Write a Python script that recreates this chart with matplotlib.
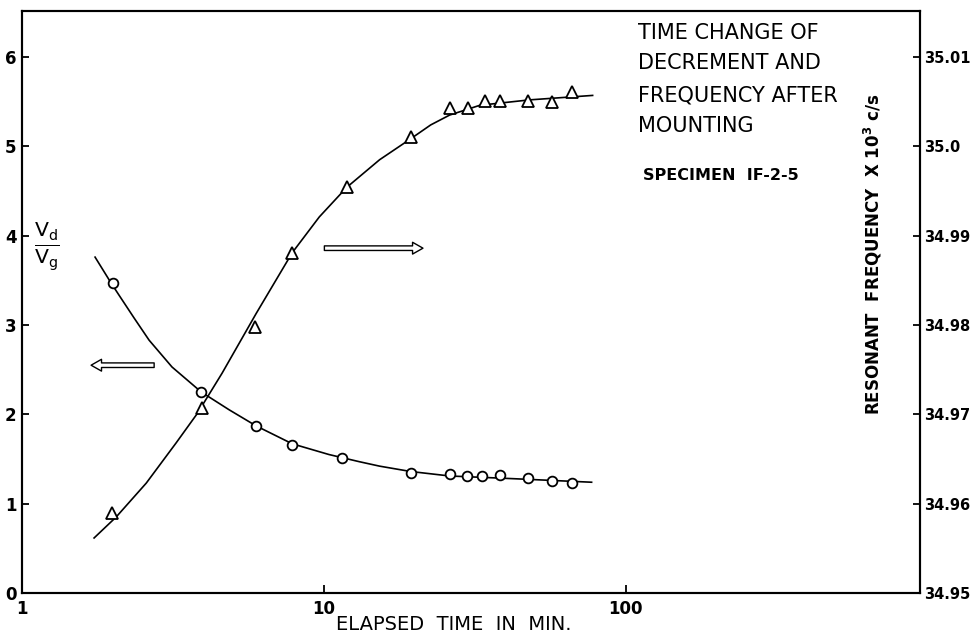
import matplotlib
matplotlib.use("Agg")
import matplotlib.pyplot as plt
from matplotlib.ticker import FixedLocator, FixedFormatter, NullLocator

# ---- data ----
# decrement V_d/V_g (left axis), circles
t_dec = [2.0, 3.93, 5.97, 7.86, 11.5, 19.4, 26.1, 29.7, 33.4, 38.2, 47.3, 56.9, 66.3]
v_dec = [3.47, 2.25, 1.87, 1.66, 1.51, 1.34, 1.33, 1.31, 1.31, 1.32, 1.29, 1.25, 1.23]
# hand-drawn fitted curve for decrement
t_dec_curve = [1.746, 1.973, 2.10, 2.35, 2.637, 3.14, 3.925, 4.86, 5.97, 7.86, 10.4, 13.1, 15.3, 19.4, 26.1, 42.2, 77.1]
v_dec_curve = [3.76, 3.47, 3.33, 3.08, 2.83, 2.53, 2.25, 2.05, 1.87, 1.67, 1.55, 1.47, 1.42, 1.36, 1.31, 1.28, 1.24]

# resonant frequency x 10^3 c/s (right axis), triangles
t_freq = [1.99, 3.95, 5.92, 7.86, 11.9, 19.5, 26.1, 30.1, 34.1, 38.2, 47.3, 57.2, 66.3]
f_freq = [34.9590, 34.9707, 34.9798, 34.9881, 34.9954, 35.0010, 35.0043, 35.0043,
          35.0051, 35.0051, 35.0051, 35.0050, 35.0061]
# hand-drawn fitted curve for frequency
t_freq_curve = [1.733, 2.05, 2.58, 3.24, 3.81, 4.60, 5.97, 7.86, 9.66, 11.9, 15.3, 19.5, 22.6, 26.1, 32.9, 48.0, 77.7]
f_freq_curve = [34.95616, 34.9585, 34.9623, 34.9668, 34.9701, 34.9746, 34.9813, 34.9881,
                34.9921, 34.9954, 34.9985, 35.0009, 35.0024, 35.0035, 35.0046, 35.0052, 35.0057]

x_ticks = [1, 10, 100]
x_tick_labels = ["1", "10", "100"]
left_ticks = [0, 1, 2, 3, 4, 5, 6]
left_tick_labels = ["0", "1", "2", "3", "4", "5", "6"]
right_ticks = [34.95, 34.96, 34.97, 34.98, 34.99, 35.00, 35.01]
right_tick_labels = ["34.95", "34.96", "34.97", "34.98", "34.99", "35.0", "35.01"]

title_lines = ["TIME CHANGE OF", "DECREMENT AND", "FREQUENCY AFTER", "MOUNTING"]
specimen_text = "SPECIMEN  IF-2-5"
x_label = "ELAPSED  TIME  IN  MIN."
right_label = r"RESONANT  FREQUENCY  X $\mathregular{10^3}$ c/s"

# ---- figure ----
plt.rcParams['font.family'] = ['DejaVu Sans']
plt.rcParams['mathtext.default'] = 'regular'

W, H = 971, 637
fig = plt.figure(figsize=(W / 100, H / 100), dpi=100)
L, R, T, B = 22, 920, 11, 593
ax = fig.add_axes([L / W, 1 - B / H, (R - L) / W, (B - T) / H])
ax.set_xscale('log')
ax.set_xlim(1, 944)
ax.set_ylim(0, 6.515)
ax2 = ax.twinx()
ax2.set_ylim(34.95, 34.95 + 6.515 / 100)

for a in (ax, ax2):
    for s in a.spines.values():
        s.set_linewidth(1.5)
        s.set_color('black')

# curves and points
ax.plot(t_dec_curve, v_dec_curve, color='black', lw=1.2)
ax.plot(t_dec, v_dec, linestyle='none', marker='o', ms=7, mfc='white', mec='black', mew=1.3)
ax2.plot(t_freq_curve, f_freq_curve, color='black', lw=1.2)
ax2.plot(t_freq, f_freq, linestyle='none', marker='^', ms=9, mfc='white', mec='black', mew=1.3)

# ticks
ax.xaxis.set_major_locator(FixedLocator(x_ticks))
ax.xaxis.set_major_formatter(FixedFormatter(x_tick_labels))
ax.xaxis.set_minor_locator(NullLocator())
ax.yaxis.set_major_locator(FixedLocator(left_ticks))
ax.yaxis.set_major_formatter(FixedFormatter(left_tick_labels))
ax2.yaxis.set_major_locator(FixedLocator(right_ticks))
ax2.yaxis.set_major_formatter(FixedFormatter(right_tick_labels))
ax2.yaxis.set_minor_locator(NullLocator())

ax.tick_params(axis='x', direction='in', length=6, width=1.3, pad=5, labelsize=12)
ax.tick_params(axis='y', direction='in', length=5, width=1.3, pad=4, labelsize=12)
ax2.tick_params(axis='y', direction='in', length=5, width=1.3, pad=3, labelsize=10.5)
for lab in ax.get_yticklabels() + ax.get_xticklabels():
    lab.set_fontweight('bold')
for lab in ax2.get_yticklabels():
    lab.set_fontweight('bold')

# left axis label: V_d / V_g
fig.text(47 / W, 1 - 247 / H, r'$\frac{V_d}{V_g}$', fontsize=21, ha='center', va='center')

# right axis label inside the plot
fig.text(873 / W, 1 - 254 / H, right_label, rotation=90, fontsize=12,
         fontweight='bold', ha='center', va='center')

# x label
fig.text(454 / W, 1 - 624 / H, x_label, fontsize=14, ha='center', va='center')

# title block
title_y = [33, 63, 95, 126]
for line, yy in zip(title_lines, title_y):
    fig.text(638 / W, 1 - yy / H, line, fontsize=15, ha='left', va='center')
fig.text(643 / W, 1 - 176 / H, specimen_text, fontsize=11.5, fontweight='bold',
         ha='left', va='center')

# direction arrows
arrow_left = dict(tail=(2.74, 2.55), head=(1.694, 2.55))
arrow_right = dict(tail=(10.04, 3.86), head=(21.3, 3.86))
style = 'simple,head_length=0.75,head_width=0.85,tail_width=0.33'
for arr in (arrow_left, arrow_right):
    ax.annotate('', xy=arr['head'], xytext=arr['tail'],
                arrowprops=dict(arrowstyle=style, fc='white', ec='black', lw=1.0,
                                shrinkA=0, shrinkB=0))

fig.savefig('out.png', dpi=100)
